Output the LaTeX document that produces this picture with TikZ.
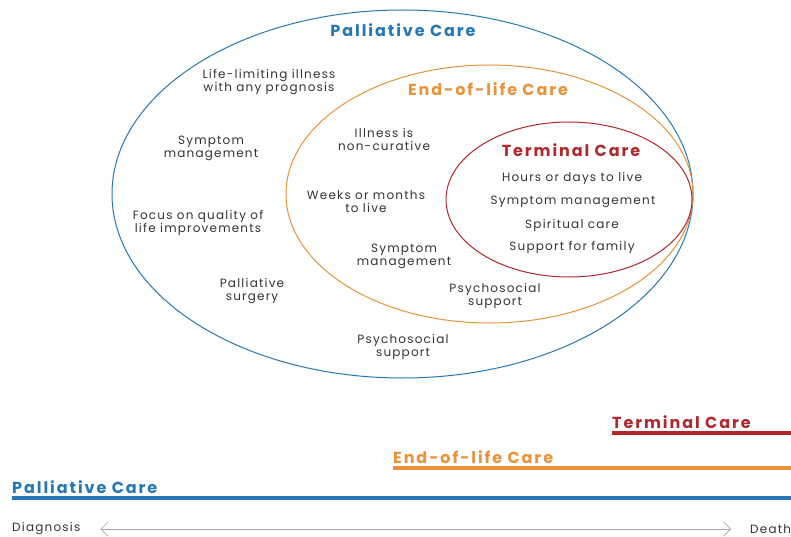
\documentclass[tikz,border=0pt]{standalone}
\usepackage{fontspec}
\setmainfont{Poppins}
\newfontfamily\bodyfont[LetterSpace=10]{Poppins}
\newfontfamily\headfont[LetterSpace=12]{Poppins}
\usepackage{xcolor}
\usetikzlibrary{positioning,arrows.meta,shapes.geometric}
\definecolor{palblue}{HTML}{2478B5}
\definecolor{eolorange}{HTML}{E8923A}
\definecolor{termred}{HTML}{B0282D}
\definecolor{txtgray}{HTML}{333333}
\begin{document}
\begin{tikzpicture}[x=1pt,y=-1pt,
   ring/.style={ellipse,draw=#1,line width=1pt,inner sep=0pt},
   txt/.style={align=center,text=txtgray,font=\bodyfont\fontsize{12}{13}\selectfont},
   ttl/.style={text=#1,font=\headfont\bfseries\fontsize{16}{18}\selectfont},
   bar/.style={draw=#1,line width=3.5pt},
   ttlbar/.style={ttl=#1,anchor=south west,inner xsep=0pt,inner ysep=4pt}]
 \useasboundingbox (0,0) rectangle (791,537);

 % nested ellipses
 \node[ring=palblue,minimum width=581pt,minimum height=368pt] (palring) at (402.5,194) {};
 \node[ring=eolorange,minimum width=407pt,minimum height=258pt] (eolring) at (489.5,194) {};
 \node[ring=termred,minimum width=246pt,minimum height=155pt] (termring) at (569,199.5) {};

 % titles inside
 \node[ttl=palblue] (paltitle) at (403,30) {Palliative Care};
 \node[ttl=eolorange] (eoltitle) at (488,89) {End-of-life Care};
 \node[ttl=termred] (termtitle) at (571,150) {Terminal Care};

 % palliative care items
 \node[txt] (pal1) at (269,82) {Life-limiting illness\\with any prognosis};
 \node[txt] (pal2) at (211,148) {Symptom\\management};
 \node[txt] (pal3) at (198,223) {Focus on quality of\\life improvements};
 \node[txt] (pal4) at (252,291) {Palliative\\surgery};
 \node[txt] (pal5) at (403,347) {Psychosocial\\support};

 % end-of-life care items
 \node[txt] (eol1) at (384,139) {Illness is\\non-curative};
 \node[txt] (eol2) at (366,202) {Weeks or months\\to live};
 \node[txt] (eol3) at (404,256) {Symptom\\management};
 \node[txt] (eol4) at (495,296) {Psychosocial\\support};

 % terminal care items
 \node[txt] (term1) at (572,178) {Hours or days to live};
 \node[txt] (term2) at (573,202) {Symptom management};
 \node[txt] (term3) at (572,225) {Spiritual care};
 \node[txt] (term4) at (572,247) {Support for family};

 % timeline bars
 \node[ttlbar=termred] (termlab) at (612,433) {Terminal Care};
 \node[ttlbar=eolorange] (eollab) at (393,468) {End-of-life Care};
 \node[ttlbar=palblue] (pallab) at (12,498) {Palliative Care};
 \coordinate (termend) at (791,433);
 \coordinate (eolend) at (791,468);
 \coordinate (palend) at (791,498);
 \draw[bar=termred] (termlab.south west) -- (termend);
 \draw[bar=eolorange] (eollab.south west) -- (eolend);
 \draw[bar=palblue,line width=4pt] (pallab.south west) -- (palend);

 % diagnosis to death
 \node[txt,anchor=west,inner xsep=0pt] (diag) at (12,529) {Diagnosis};
 \node[txt,anchor=west,inner xsep=0pt] (death) at (750,529) {Death};
 \draw[gray!70,line width=0.6pt,{Straight Barb[length=7pt,width=14pt]}-{Straight Barb[length=7pt,width=14pt]},
   shorten <=20pt,shorten >=19pt] (diag.east) -- (death.west);
\end{tikzpicture}
\end{document}
